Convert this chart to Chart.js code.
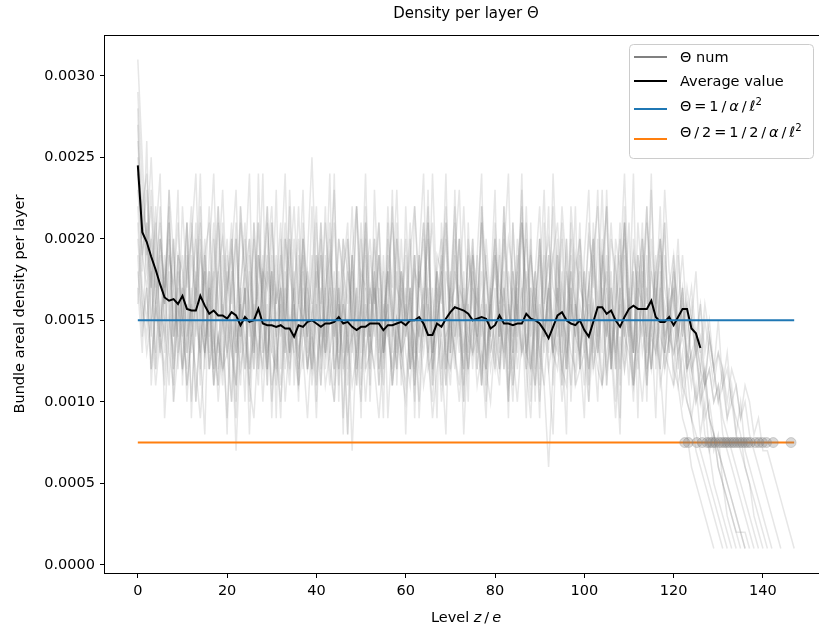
<!DOCTYPE html>
<html>
<head>
<meta charset="utf-8">
<script src="https://cdn.jsdelivr.net/npm/chart.js@4.4.1/dist/chart.umd.min.js"></script>
<style>
  html, body { margin: 0; padding: 0; overflow: hidden; background: #fff; }
  #caja { width: 840px; height: 630px; }
</style>
</head>
<body>
<div id="caja"><canvas id="grafico" width="840" height="630"></canvas></div>
<script>
// ------------------------------------------------------------------------------
// Density per layer (densidad en unidades de 1e-4)
// ------------------------------------------------------------------------------
const S1 = [27,20,23,17,21,14,18,16,12,19,15,21,13,17,11,18,14,20,16,12,
  17,21,13,16,10,19,15,12,18,22,14,11,17,15,20,13,16,19,12,15,
  18,11,16,21,14,17,9,15,19,13,16,20,12,17,14,11,18,15,21,13,
  16,12,19,14,17,22,13,15,11,18,16,20,14,12,17,19,13,16,10,15,
  19,14,17,12,21,15,13,18,11,16,20,14,17,13,19,15,12,18,16,14,
  11,17,20,13,16,18,12,15,21,14,17,11,16,19,13,15,18,12,16,14,
  17,12,15,13,11,14,10,12,9,7,8,5,4,3,2,1];
const S2 = [31,25,19,22,16,20,17,21,14,18,15,13,19,16,22,14,17,12,18,15,
  13,17,20,15,12,18,14,21,16,11,19,15,17,13,20,16,12,18,14,22,
  15,19,12,16,14,20,17,13,18,11,16,21,14,17,15,12,19,16,13,20,
  14,17,11,18,15,21,13,16,19,12,17,14,20,15,13,18,16,11,19,14,
  17,13,20,16,12,18,15,22,14,17,11,16,19,13,15,20,12,17,14,18,
  15,12,19,16,23,14,17,13,18,15,11,20,16,14,19,12,17,15,21,13,
  16,14,17,12,15,13,14,11,12,10,11,8,7,6,5,4,3,2,1];
const S3 = [22,17,15,19,13,16,14,18,12,15,17,11,14,16,13,19,12,15,10,14,
  9,15,13,17,12,16,14,11,18,13,15,12,16,10,14,17,13,15,12,16,
  14,11,17,13,15,12,16,8,14,17,12,15,13,18,11,14,16,12,15,13,
  17,12,14,10,16,13,15,18,12,14,11,16,13,17,12,15,14,11,16,13,
  15,12,17,14,10,16,13,15,12,18,14,11,15,13,16,12,14,17,11,15,
  13,16,12,14,17,11,15,13,16,12,14,18,13,15,11,16,14,12,8,15,
  13,14,11,10,9,7,6,5,4,3,2,1];
const S4 = [25,21,18,20,17,22,16,19,17,21,15,18,20,16,19,17,22,15,18,20,
  17,19,15,21,18,16,20,14,18,17,21,16,19,15,18,22,16,20,17,15,
  19,16,21,17,15,20,18,16,22,14,18,17,20,16,19,15,18,21,17,16,
  20,15,18,17,21,16,14,19,18,22,16,17,20,15,19,17,16,21,18,15,
  19,17,16,20,18,15,21,17,19,16,14,18,20,17,16,22,18,15,19,17,
  16,20,18,15,19,17,21,16,18,20,15,19,17,16,21,18,16,20,17,15,
  18,16,19,15,17,14,16,13,15,12,13,11,12,10,9,8,6,5,3,2,1];
const S5 = [20,16,13,15,11,14,12,16,10,13,15,11,14,12,9,13,16,11,14,12,
  13,10,15,12,14,11,9,14,12,16,11,13,10,14,12,15,11,13,9,14,
  12,15,11,13,10,16,12,14,11,13,15,10,14,12,9,13,15,11,14,12,
  10,14,12,15,11,13,9,12,14,11,16,13,10,14,12,15,11,13,12,10,
  14,12,15,11,13,10,14,12,9,15,13,11,6,12,14,10,13,15,11,12,
  13,10,14,12,11,15,13,9,14,12,16,11,13,10,14,12,15,11,13,12,
  11,13,10,12,9,11,8,10,7,8,6,5,4,3,2,2,1];
const S6 = [29,23,20,17,22,14,19,16,20,13,17,21,14,18,12,19,16,21,13,17,
  20,14,9,17,21,15,12,19,16,22,13,17,15,20,12,18,14,21,16,12,
  19,15,22,13,17,11,18,20,14,16,21,12,17,15,19,13,22,16,12,18,
  15,20,13,17,21,14,11,18,16,24,13,19,15,12,20,17,14,21,12,16,
  19,14,22,16,13,18,21,12,17,15,20,13,16,22,14,18,12,19,15,21,
  13,17,20,14,18,22,12,16,19,15,21,13,17,20,14,23,16,12,19,15,
  18,14,16,12,13,10,11,8,7,5,4,3,2,1];
const S7 = [24,19,21,15,18,13,17,20,14,16,12,19,15,17,21,13,16,18,12,15,
  18,14,11,17,20,15,13,19,16,12,18,14,17,21,13,15,19,12,16,14,
  17,20,13,15,18,12,16,14,19,15,11,17,14,20,16,13,18,15,12,17,
  8,16,19,13,15,17,12,18,14,21,15,13,17,16,12,19,14,16,18,13,
  15,19,12,16,14,20,17,13,15,18,12,16,19,14,13,17,15,20,16,12,
  18,14,16,13,19,15,12,17,20,14,16,13,18,15,17,12,16,19,14,15,
  17,13,15,16,12,14,13,11,14,12,10,12,9,11,8,10,7,6,5,4,3,2,1];
const S8 = [18,15,17,12,16,14,11,15,13,17,12,14,16,10,15,13,17,12,14,11,
  16,13,15,11,17,12,14,16,10,15,13,12,17,14,11,16,13,15,12,14,
  11,15,13,17,12,14,16,11,15,13,10,16,14,12,17,13,15,11,14,16,
  13,11,15,14,17,12,13,16,10,14,15,12,16,8,14,13,17,11,15,12,
  14,16,12,15,11,17,13,14,10,16,13,15,12,14,17,11,15,13,12,16,
  14,11,15,13,16,12,14,10,17,13,15,12,14,16,11,15,13,17,12,14,
  13,15,11,13,12,10,12,9,10,8,7,6,5,4,3,2,2,1];
const S9 = [26,21,19,23,16,20,17,22,15,19,18,14,21,17,16,20,13,18,22,15,
  19,16,21,14,18,20,15,17,13,19,22,16,18,24,14,17,20,15,18,16,
  21,14,17,19,16,13,20,18,15,22,17,14,19,16,21,15,18,13,20,17,
  15,19,22,16,14,18,21,15,17,20,13,18,16,22,15,19,17,14,20,16,
  18,15,21,17,13,19,16,20,15,18,22,14,17,19,16,21,15,18,13,20,
  17,15,19,22,16,14,20,18,15,21,17,13,19,16,22,15,18,20,14,17,
  19,15,17,14,16,13,11,12,9,8,6,5,3,2,1];
const S10 = [21,16,14,18,12,15,17,13,11,16,14,12,17,10,15,13,16,11,14,12,
  15,13,11,16,14,12,17,21,13,15,10,14,16,12,15,13,11,17,14,12,
  16,13,15,11,14,17,12,15,7,14,16,12,13,15,11,16,14,12,15,13,
  11,15,14,12,16,13,10,15,17,13,12,14,16,11,15,13,14,12,16,14,
  12,15,13,16,11,14,17,13,12,15,10,14,16,13,15,12,11,16,14,13,
  15,12,14,16,11,13,15,12,17,14,13,11,15,16,12,14,13,15,12,14,
  15,13,14,12,13,14,12,11,12,10,11,9,8,7,6,5,4,3,2,1];
const S11 = [23,19,17,20,15,18,16,21,14,17,19,13,16,20,15,18,12,17,21,14,
  17,20,13,16,18,14,21,15,12,18,16,19,14,17,13,20,16,15,18,12,
  16,19,14,17,21,15,13,18,16,12,20,15,17,14,19,13,16,22,15,18,
  14,17,12,19,16,20,13,15,18,14,17,21,15,13,19,16,14,18,12,17,
  20,15,13,18,16,14,21,17,12,16,19,14,17,15,20,13,18,16,14,19,
  15,17,13,20,16,14,18,12,17,21,15,13,19,16,14,18,15,20,13,16,
  17,14,16,13,15,14,12,15,13,11,13,12,10,12,11,9,11,10,8,9,7,7,6,5,4,3,2,1];
const S12 = [19,14,17,12,16,13,15,11,17,14,12,16,10,15,13,17,12,14,11,16,
  13,15,7,14,17,11,15,13,16,12,18,14,11,15,13,16,12,14,17,11,
  15,13,16,12,10,15,17,13,14,11,16,13,15,18,12,14,16,11,15,13,
  14,17,11,15,13,16,12,14,18,12,15,13,11,16,14,17,12,15,13,16,
  13,11,16,14,17,12,15,21,13,11,16,14,17,13,12,15,14,11,16,13,
  15,12,16,14,11,17,13,15,12,16,14,11,17,13,15,12,16,14,13,15,
  12,11,9,8,6,5,4,3,2,1];
const S13 = [16,22,24,18,12,20,15,23,10,19,14,21,9,17,24,13,18,11,22,16,
  8,19,23,14,17,10,21,16,24,12,18,9,20,15,22,11,17,23,13,19,
  10,21,16,24,12,18,8,20,15,22,13,19,11,23,16,9,21,14,18,12,
  22,15,10,19,24,13,17,9,21,16,12,23,14,18,10,20,15,22,11,17,
  23,12,18,9,21,15,24,13,17,10,20,16,22,11,19,14,8,21,17,12,
  19,23,14,10,18,22,13,16,9,21,15,24,12,18,10,20,16,22,13,17,
  11,19,14,16,12,13,10,11,9,8,7,6,5,4,3,2,1];
const S14 = [28,18,26,14,20,24,13,19,17,23,11,18,22,14,20,12,19,24,15,21,
  13,18,10,22,16,20,12,24,15,19,9,17,21,13,23,16,11,20,14,18,
  22,12,19,15,24,10,18,21,13,17,9,22,16,20,12,19,14,23,11,18,
  16,21,9,19,14,23,12,18,20,11,17,22,15,10,21,13,19,24,12,16,
  20,14,22,10,18,15,23,12,19,16,9,21,13,24,17,11,20,15,22,12,
  18,10,21,16,13,23,15,19,11,22,14,18,9,20,16,24,12,17,21,13,
  19,14,17,12,15,13,16,11,14,12,10,11,9,10,8,7,6,5,4,3,2,1];
const S15 = [17,13,21,11,16,19,9,14,20,12,17,10,15,21,13,8,18,14,11,19,
  15,10,20,13,17,8,16,12,19,11,21,14,9,18,13,16,10,20,12,15,
  9,17,13,20,11,16,14,8,19,12,15,21,10,17,13,18,9,14,20,11,
  16,12,19,9,15,21,11,17,13,8,18,14,20,10,16,12,19,13,9,17,
  12,20,14,10,18,13,16,9,21,11,15,19,12,8,17,14,20,10,16,13,
  9,18,12,15,20,11,17,13,8,19,14,10,16,21,12,15,9,18,13,16,
  14,11,13,10,9,8,7,6,5,4,3,2,1];
const S16 = [24,22,20,25,18,21,16,23,19,14,22,17,20,24,15,19,21,13,18,23,
  16,20,14,22,18,24,13,19,17,21,15,23,12,20,18,16,22,14,19,25,
  17,21,13,18,23,15,20,12,19,22,16,24,14,18,21,13,20,17,23,15,
  19,12,22,17,20,14,24,16,18,21,13,19,23,15,17,20,12,22,18,14,
  21,16,19,24,13,18,22,15,20,12,17,23,14,19,21,16,13,22,18,20,
  14,21,17,23,15,19,12,20,18,24,16,13,21,17,22,14,19,15,23,18,
  16,20,14,17,15,18,13,16,14,12,15,11,13,10,11,9,10,8,7,6,5,4,3,2,1];
const thetaNum = [S1, S2, S3, S4, S5, S6, S7, S8, S9, S10, S11, S12, S13, S14, S15, S16];

// Valor promedio (x = 0 .. 126)
const promedio = [24.5,20.4,19.8,18.9,18.1,17.2,16.4,16.2,16.3,16.0,
  16.5,15.7,15.6,15.6,16.5,15.9,15.4,15.6,15.3,15.3,
  15.1,15.5,15.3,14.7,15.2,14.9,15.0,15.7,14.8,14.7,
  14.7,14.6,14.7,14.5,14.5,14.0,14.7,14.6,14.9,15.0,
  14.8,14.6,14.8,14.8,14.9,15.2,14.8,14.9,14.6,14.4,
  14.6,14.6,14.8,14.8,14.8,14.4,14.7,14.7,14.8,14.9,
  14.7,15.0,15.0,15.2,14.8,14.1,14.1,14.8,14.6,15.1,
  15.5,15.8,15.7,15.6,15.4,15.0,15.1,15.2,15.1,14.5,
  14.7,15.3,14.8,14.8,14.7,14.8,14.8,15.4,15.1,15.0,
  14.8,14.4,13.9,14.6,15.3,15.5,15.0,14.8,14.7,15.0,
  14.4,14.0,14.9,15.8,15.8,15.4,15.6,15.0,14.6,15.2,
  15.7,15.9,15.7,15.7,15.7,16.2,15.2,14.9,14.9,15.2,
  14.7,15.2,15.7,15.7,14.5,14.2,13.3];

// Referencias Theta y Theta/2
const nivelTheta = 15;
const nivelMitad = 7.5;
const xReferencia = [0, 147];

// Cruces con Theta/2 (circulos)
const cruces = [122.5,123.3,125.2,126.4,127.5,128.1,128.7,129.3,130.2,130.8,
  131.4,131.9,132.5,133.1,133.6,134.2,134.8,135.4,136.0,136.6,137.2,
  138.3,139.1,139.9,140.8,142.3,146.3];

const xTicks = [0, 20, 40, 60, 80, 100, 120, 140];
const yTicks = [0, 0.0005, 0.001, 0.0015, 0.002, 0.0025, 0.003];

const UNIDAD = 1e-4;
const FUENTE = '"DejaVu Sans", sans-serif';
const TAM = 14.5;

// ------------------------------------------------------------------------------
// Texto con cursiva / superindice (estilo mathtext)
// ------------------------------------------------------------------------------
function textoRico(ctx, partes, x, y, size, centrado) {
  const fuente = (p) => (p[1] === 'i' ? 'italic ' : '') + (p[1] === 's' ? size * 0.7 : size) + 'px ' + FUENTE;
  let ancho = 0;
  for (let p of partes) { ctx.font = fuente(p); ancho += ctx.measureText(p[0]).width; }
  let cx = centrado ? x - ancho / 2 : x;
  for (let p of partes) {
    ctx.font = fuente(p);
    ctx.fillText(p[0], cx, p[1] === 's' ? y - size * 0.42 : y);
    cx += ctx.measureText(p[0]).width;
  }
}

const leyenda = [
  { color: '#808080', yl: 57, yt: 62, partes: [['\u0398 num', '']] },
  { color: '#000000', yl: 81, yt: 86, partes: [['Average value', '']] },
  { color: '#1f77b4', yl: 109, yt: 111, partes: [['\u0398\u2009=\u20091\u2009/\u2009', ''], ['\u03b1', 'i'], ['\u2009/\u2009', ''], ['\u2113', 'i'], ['2', 's']] },
  { color: '#ff7f0e', yl: 139, yt: 137, partes: [['\u0398\u2009/\u20092\u2009=\u20091\u2009/\u20092\u2009/\u2009', ''], ['\u03b1', 'i'], ['\u2009/\u2009', ''], ['\u2113', 'i'], ['2', 's']] },
];

const marco = {
  id: 'marco',
  afterDraw(chart) {
    const { ctx, chartArea: a } = chart;
    ctx.save();
    // caja de ejes
    ctx.strokeStyle = '#000';
    ctx.lineWidth = 1;
    ctx.strokeRect(a.left - 0.5, a.top + 0.5, a.right - a.left, a.bottom - a.top);
    // titulo eje x
    ctx.fillStyle = '#000';
    ctx.textAlign = 'left';
    ctx.textBaseline = 'alphabetic';
    textoRico(ctx, [['Level ', ''], ['z', 'i'], ['\u2009/\u2009', ''], ['e', 'i']], (a.left + a.right) / 2, 622, TAM, true);
    // leyenda
    const lx = 629, ly = 44, lw = 184, lh = 114;
    ctx.beginPath();
    ctx.roundRect(lx + 0.5, ly + 0.5, lw, lh, 4);
    ctx.fillStyle = 'rgba(255,255,255,0.8)';
    ctx.fill();
    ctx.strokeStyle = '#cccccc';
    ctx.stroke();
    for (let item of leyenda) {
      ctx.strokeStyle = item.color;
      ctx.lineWidth = 2;
      ctx.beginPath();
      ctx.moveTo(lx + 5, item.yl);
      ctx.lineTo(lx + 38, item.yl);
      ctx.stroke();
      ctx.fillStyle = '#000';
      textoRico(ctx, item.partes, lx + 51, item.yt, TAM, false);
    }
    ctx.restore();
  }
};

// ------------------------------------------------------------------------------
// Datasets
// ------------------------------------------------------------------------------
const datasets = [];
datasets.push({
  type: 'scatter', label: 'cruces',
  data: cruces.map(x => ({ x: x, y: nivelMitad * UNIDAD })),
  backgroundColor: 'rgba(128,128,128,0.3)', borderColor: 'rgba(128,128,128,0.3)',
  borderWidth: 1, pointRadius: 5, order: 0,
});
datasets.push({
  label: 'Theta/2', data: xReferencia.map(x => ({ x: x, y: nivelMitad * UNIDAD })),
  borderColor: '#ff7f0e', borderWidth: 2, pointRadius: 0, order: 1,
});
datasets.push({
  label: 'Theta', data: xReferencia.map(x => ({ x: x, y: nivelTheta * UNIDAD })),
  borderColor: '#1f77b4', borderWidth: 2, pointRadius: 0, order: 2,
});
datasets.push({
  label: 'Average value', data: promedio.map((v, i) => ({ x: i, y: v * UNIDAD })),
  borderColor: '#000000', borderWidth: 2, pointRadius: 0, order: 3,
});
for (let serie of thetaNum) {
  datasets.push({
    label: 'Theta num', data: serie.map((v, i) => ({ x: i, y: v * UNIDAD })),
    borderColor: 'rgba(128,128,128,0.2)', borderWidth: 1.5, pointRadius: 0, order: 4,
  });
}

const ticksComun = { color: '#000', font: { family: FUENTE, size: TAM }, padding: 5, autoSkip: false, maxRotation: 0 };
const gridComun = { drawOnChartArea: false, drawTicks: true, tickLength: 5, color: '#000', lineWidth: 1 };

new Chart(document.getElementById('grafico'), {
  type: 'line',
  data: { datasets: datasets },
  options: {
    responsive: false,
    animation: false,
    devicePixelRatio: 1,
    layout: { padding: { top: 0, right: 13, bottom: 0, left: 0 } },
    plugins: {
      legend: { display: false },
      tooltip: { enabled: false },
      title: {
        display: true, text: 'Density per layer \u0398', fullSize: false, color: '#000',
        font: { family: FUENTE, size: 15, weight: 'normal' }, padding: { top: 5, bottom: 12 },
      },
    },
    scales: {
      x: {
        type: 'linear', min: -7.35, max: 154.35,
        afterFit: (s) => { s.height = 57; },
        afterBuildTicks: (s) => { s.ticks = xTicks.map(v => ({ value: v })); },
        grid: gridComun, border: { display: false },
        ticks: ticksComun,
      },
      y: {
        type: 'linear', min: -0.00005, max: 0.00325,
        afterFit: (s) => { s.width = 105; },
        afterBuildTicks: (s) => { s.ticks = yTicks.map(v => ({ value: v })); },
        grid: gridComun, border: { display: false },
        ticks: Object.assign({}, ticksComun, { callback: (v) => v.toFixed(4) }),
        title: {
          display: true, text: 'Bundle areal density per layer', color: '#000',
          font: { family: FUENTE, size: TAM }, padding: { top: 12, bottom: 0 },
        },
      },
    },
  },
  plugins: [marco],
});
</script>
</body>
</html>
